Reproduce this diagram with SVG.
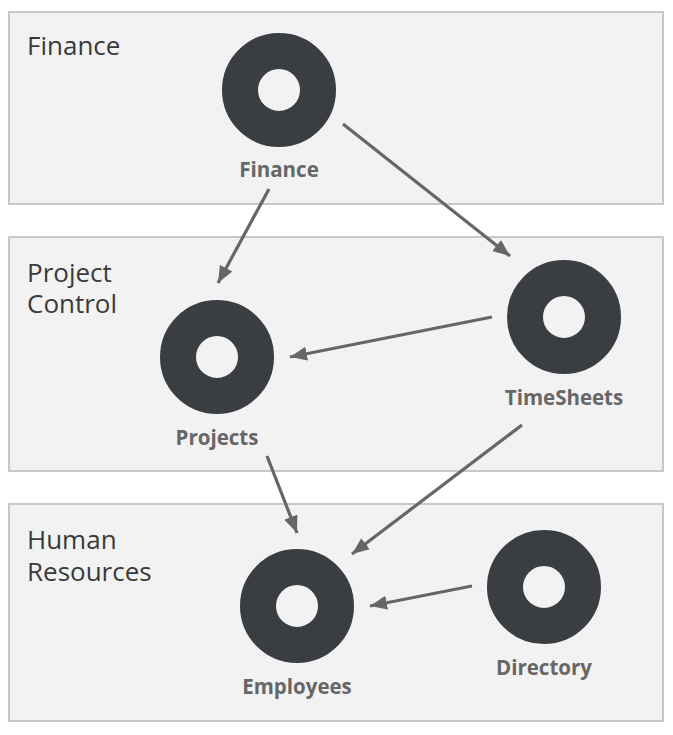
<svg xmlns="http://www.w3.org/2000/svg" width="673" height="735" viewBox="0 0 673 735">
<style>
.cluster{fill:#f2f2f2;stroke:#c8c8c8;stroke-width:2}
.clabel{font-family:"Open Sans","Noto Sans",sans-serif;font-size:26px;fill:#3a3a3a}
.ring{fill:none;stroke:#3a3d41;stroke-width:36}
.nlabel{font-family:"Open Sans","Noto Sans",sans-serif;font-size:20.5px;font-weight:bold;fill:#666;text-anchor:middle}
.edge{stroke:#666;stroke-width:3.2;fill:none;marker-end:url(#arr)}
</style>
<defs>
<marker id="arr" markerUnits="userSpaceOnUse" markerWidth="18" markerHeight="16" refX="17" refY="8" orient="auto">
<path d="M0,1 L17,8 L0,15 Z" fill="#666"/>
</marker>
</defs>
<rect width="673" height="735" fill="#fff"/>
<g id="cluster-finance">
<rect class="cluster" x="9" y="12" width="654" height="192"/>
<text class="clabel" x="27" y="55">Finance</text>
</g>
<g id="cluster-project-control">
<rect class="cluster" x="9" y="237" width="654" height="234"/>
<text class="clabel" x="27" y="282">Project</text>
<text class="clabel" x="27" y="313">Control</text>
</g>
<g id="cluster-human-resources">
<rect class="cluster" x="9" y="504" width="654" height="217"/>
<text class="clabel" x="27" y="549">Human</text>
<text class="clabel" x="27" y="581">Resources</text>
</g>
<g id="edges">
<line class="edge" x1="269" y1="189" x2="218" y2="283"/>
<line class="edge" x1="343" y1="124" x2="510" y2="256"/>
<line class="edge" x1="492" y1="317" x2="290" y2="357"/>
<line class="edge" x1="267" y1="456" x2="297" y2="533"/>
<line class="edge" x1="522" y1="425" x2="352" y2="554"/>
<line class="edge" x1="472" y1="586" x2="370" y2="606"/>
</g>
<g id="node-finance">
<circle class="ring" cx="279" cy="90" r="39"/>
<text class="nlabel" x="279" y="177">Finance</text>
</g>
<g id="node-timesheets">
<circle class="ring" cx="564" cy="317" r="39"/>
<text class="nlabel" x="564" y="405">TimeSheets</text>
</g>
<g id="node-projects">
<circle class="ring" cx="217" cy="357" r="39"/>
<text class="nlabel" x="217" y="445">Projects</text>
</g>
<g id="node-employees">
<circle class="ring" cx="297" cy="606" r="39"/>
<text class="nlabel" x="297" y="694">Employees</text>
</g>
<g id="node-directory">
<circle class="ring" cx="544" cy="587" r="39"/>
<text class="nlabel" x="544" y="675">Directory</text>
</g>
</svg>
